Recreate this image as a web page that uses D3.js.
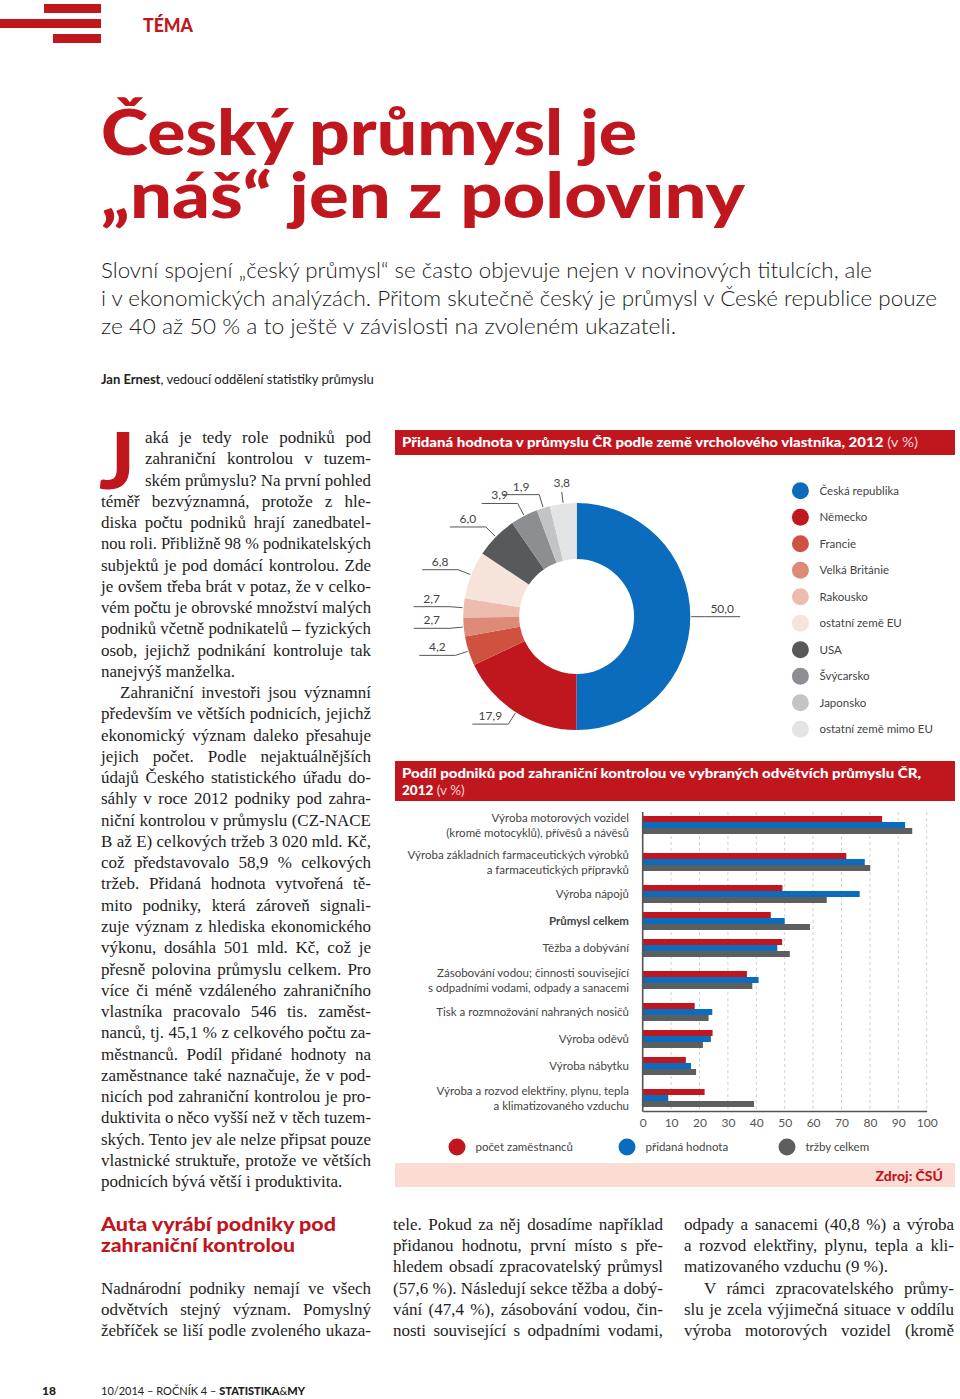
<!DOCTYPE html>
<html lang="cs"><head><meta charset="utf-8">
<script src="https://cdn.jsdelivr.net/npm/d3@7/dist/d3.min.js"></script>
<style>html,body{margin:0;padding:0;background:#fff}svg{display:block}</style>
</head><body>
<svg id="page" width="960" height="1399" viewBox="0 0 960 1399"></svg>
<script>
// ================= DATA =================
const donutCategories = ["Česká republika","Německo","Francie","Velká Británie","Rakousko","ostatní země EU","USA","Švýcarsko","Japonsko","ostatní země mimo EU"];
const donutValues = [50.0,17.9,4.2,2.7,2.7,6.8,6.0,3.9,1.9,3.8];
const donutColors = ["#0b6bbd","#c0171f","#cf5240","#dd8a76","#ecbdae","#f6e3da","#58595b","#8d8e91","#c3c4c6","#e3e4e6"];

const barCategories = [
  "Výroba motorových vozidel\n(kromě motocyklů), přívěsů a návěsů",
  "Výroba základních farmaceutických výrobků\na farmaceutických přípravků",
  "Výroba nápojů",
  "Průmysl celkem",
  "Těžba a dobývání",
  "Zásobování vodou; činnosti související\ns odpadními vodami, odpady a sanacemi",
  "Tisk a rozmnožování nahraných nosičů",
  "Výroba oděvů",
  "Výroba nábytku",
  "Výroba a rozvod elektřiny, plynu, tepla\na klimatizovaného vzduchu"
];
const barSeries = ["počet zaměstnanců","přidaná hodnota","tržby celkem"];
const barEmployees  = [84.3,71.7,49.2,45.1,49.1,36.7,18.3,24.6,15.2,21.8];
const barAddedValue = [92.4,78.2,76.4,50.0,47.4,40.8,24.5,24.0,17.0,9.0];
const barRevenue    = [94.9,80.1,64.8,58.9,51.8,38.6,23.2,21.2,18.8,39.2];
const barColors = ["#c0171f","#0b6bbd","#5d5e60"];
const barTicks = [0,10,20,30,40,50,60,70,80,90,100];
const barHighlight = "Průmysl celkem";

// ================= TEXT =================
const titleLines = ["Český průmysl je","„náš“ jen z poloviny"];
const leadLines = [
  "Slovní spojení „český průmysl“ se často objevuje nejen v novinových titulcích, ale",
  "i v ekonomických analýzách. Přitom skutečně český je průmysl v České republice pouze",
  "ze 40 až 50 % a to ještě v závislosti na zvoleném ukazateli."
];
const col1Para1 = [
  "aká je tedy role podniků pod",
  "zahraniční kontrolou v tuzem-",
  "ském průmyslu? Na první pohled",
  "téměř bezvýznamná, protože z hle-",
  "diska počtu podniků hrají zanedbatel-",
  "nou roli. Přibližně 98 % podnikatelských",
  "subjektů je pod domácí kontrolou. Zde",
  "je ovšem třeba brát v potaz, že v celko-",
  "vém počtu je obrovské množství malých",
  "podniků včetně podnikatelů – fyzických",
  "osob, jejichž podnikání kontroluje tak",
  "nanejvýš manželka."
];
const col1Para2 = [
  "Zahraniční investoři jsou významní",
  "především ve větších podnicích, jejichž",
  "ekonomický význam daleko přesahuje",
  "jejich počet. Podle nejaktuálnějších",
  "údajů Českého statistického úřadu do-",
  "sáhly v roce 2012 podniky pod zahra-",
  "niční kontrolou v průmyslu (CZ-NACE",
  "B až E) celkových tržeb 3 020 mld. Kč,",
  "což představovalo 58,9 % celkových",
  "tržeb. Přidaná hodnota vytvořená tě-",
  "mito podniky, která zároveň signali-",
  "zuje význam z hlediska ekonomického",
  "výkonu, dosáhla 501 mld. Kč, což je",
  "přesně polovina průmyslu celkem. Pro",
  "více či méně vzdáleného zahraničního",
  "vlastníka pracovalo 546 tis. zaměst-",
  "nanců, tj. 45,1 % z celkového počtu za-",
  "městnanců. Podíl přidané hodnoty na",
  "zaměstnance také naznačuje, že v pod-",
  "nicích pod zahraniční kontrolou je pro-",
  "duktivita o něco vyšší než v těch tuzem-",
  "ských. Tento jev ale nelze připsat pouze",
  "vlastnické struktuře, protože ve větších",
  "podnicích bývá větší i produktivita."
];
const bottomHeading = ["Auta vyrábí podniky pod","zahraniční kontrolou"];
const bottomCol1 = [
  "Nadnárodní podniky nemají ve všech",
  "odvětvích stejný význam. Pomyslný",
  "žebříček se liší podle zvoleného ukaza-"
];
const bottomCol2 = [
  "tele. Pokud za něj dosadíme například",
  "přidanou hodnotu, první místo s pře-",
  "hledem obsadí zpracovatelský průmysl",
  "(57,6 %). Následují sekce těžba a dobý-",
  "vání (47,4 %), zásobování vodou, čin-",
  "nosti související s odpadními vodami,"
];
const bottomCol3a = [
  "odpady a sanacemi (40,8 %) a výroba",
  "a rozvod elektřiny, plynu, tepla a kli-",
  "matizovaného vzduchu (9 %)."
];
const bottomCol3b = [
  "V rámci zpracovatelského průmy-",
  "slu je zcela výjimečná situace v oddílu",
  "výroba motorových vozidel (kromě"
];

// ================= HELPERS =================
const RED = "#c0171f";
const SANS = "Lato, 'Open Sans', sans-serif";
const SERIF = "'Liberation Serif', 'DejaVu Serif', serif";
const svg = d3.select("#page");
const locale = d3.formatLocale({decimal: ",", thousands: " ", grouping: [3], currency: ["", " Kč"]});
const fmt1 = locale.format(".1f");

function bodyLine(g, str, x, y, width, justify) {
  const t = g.append("text").attr("x", x).attr("y", y).text(str)
    .attr("font-family", SERIF).attr("font-size", 17).attr("fill", "#1e1e1e");
  const w = t.node().getComputedTextLength();
  if (w > width) {
    t.attr("textLength", width).attr("lengthAdjust", "spacingAndGlyphs");
  } else if (justify) {
    const n = (str.match(/ /g) || []).length;
    if (n) t.style("word-spacing", ((width - w) / n) + "px");
  }
  return t;
}
function fitText(t, width) {
  t.attr("textLength", width).attr("lengthAdjust", "spacingAndGlyphs");
  return t;
}

// ================= HEADER =================
const head = svg.append("g");
[[44, 4], [0, 19], [53, 34]].forEach(([x0, y0]) =>
  head.append("rect").attr("x", x0).attr("y", y0).attr("width", 101 - x0).attr("height", 9).attr("fill", RED));
head.append("text").attr("x", 143).attr("y", 32).text("TÉMA")
  .attr("font-family", SANS).attr("font-weight", 900).attr("font-size", 18).attr("fill", RED)
  .call(t => fitText(t, 50));

titleLines.forEach((s, i) => {
  const t = head.append("text").attr("x", 101).attr("y", 155 + i * 63).text(s)
    .attr("font-family", SANS).attr("font-weight", 900).attr("font-size", 62).attr("fill", RED);
  fitText(t, i === 0 ? 536 : 644);
});
const leadW = [771, 836, 575];
leadLines.forEach((s, i) => {
  const t = head.append("text").attr("x", 101).attr("y", 278 + i * 28).text(s)
    .attr("font-family", SANS).attr("font-weight", 300).attr("font-size", 21).attr("fill", "#1a1a1a");
  fitText(t, leadW[i]);
});
const author = head.append("text").attr("x", 101).attr("y", 384)
  .attr("font-family", SANS).attr("font-size", 13).attr("fill", "#222");
author.append("tspan").attr("font-weight", 700).text("Jan Ernest");
author.append("tspan").text(", vedoucí oddělení statistiky průmyslu");

// ================= COLUMN 1 BODY =================
const body = svg.append("g");
const LH = 21.26, B0 = 443;
body.append("text").attr("x", 99).attr("y", 489).text("J")
  .attr("font-family", SANS).attr("font-weight", 900).attr("font-size", 78).attr("fill", RED)
  .call(t => fitText(t, 36));
col1Para1.forEach((s, i) => {
  const x = i < 3 ? 145 : 101;
  bodyLine(body, s, x, B0 + i * LH, 371 - x, i < col1Para1.length - 1);
});
col1Para2.forEach((s, i) => {
  const k = i + col1Para1.length;
  const x = i === 0 ? 120 : 101;
  bodyLine(body, s, x, B0 + k * LH, 371 - x, i < col1Para2.length - 1);
});

// ================= BOTTOM SECTION =================
bottomHeading.forEach((s, i) =>
  body.append("text").attr("x", 101).attr("y", 1231 + i * 21).text(s)
    .attr("font-family", SANS).attr("font-weight", 900).attr("font-size", 19).attr("fill", RED)
    .call(t => fitText(t, i === 0 ? 235 : 194)));
const BB = 1230, BL = 21.2;
bottomCol1.forEach((s, i) => bodyLine(body, s, 101, BB + (i + 3) * BL, 270, true));
bottomCol2.forEach((s, i) => bodyLine(body, s, 393, BB + i * BL, 270, true));
bottomCol3a.forEach((s, i) => bodyLine(body, s, 684, BB + i * BL, 270, i < bottomCol3a.length - 1));
bottomCol3b.forEach((s, i) => {
  const x = i === 0 ? 704 : 684;
  bodyLine(body, s, x, BB + (i + 3) * BL, 954 - x, true);
});

// footer
const foot = svg.append("g").attr("font-family", SANS).attr("font-size", 11).attr("fill", "#222");
foot.append("text").attr("x", 42).attr("y", 1395).attr("font-size", 12).attr("font-weight", 900).text("18");
const ft = foot.append("text").attr("x", 101).attr("y", 1395);
ft.append("tspan").text("10/2014 – ROČNÍK 4 – ");
ft.append("tspan").attr("font-weight", 900).text("STATISTIKA");
ft.append("tspan").text("&");
ft.append("tspan").attr("font-weight", 900).text("MY");

// ================= DONUT CHART =================
const dc = svg.append("g");
dc.append("rect").attr("x", 395).attr("y", 430).attr("width", 560).attr("height", 25).attr("fill", RED);
const dTitle = dc.append("text").attr("x", 402).attr("y", 447)
  .attr("font-family", SANS).attr("font-size", 13.5).attr("fill", "#fff");
dTitle.append("tspan").attr("font-weight", 900).text("Přidaná hodnota v průmyslu ČR podle země vrcholového vlastníka, 2012");
dTitle.append("tspan").attr("fill", "#f6d3d3").text(" (v %)");
fitText(dTitle, 516);

const CX = 576.7, CY = 616.5, R0 = 57.5, R1 = 113.5;
const donutData = donutCategories.map((c, i) => ({cat: c, value: donutValues[i]}));
const pie = d3.pie().sort(null).value(d => d.value);
const arcs = pie(donutData);
const arc = d3.arc().innerRadius(R0).outerRadius(R1);
const color = d3.scaleOrdinal().domain(donutCategories).range(donutColors);
const dg = dc.append("g").attr("transform", `translate(${CX},${CY})`);
dg.selectAll("path").data(arcs).join("path")
  .attr("d", arc).attr("fill", d => color(d.data.cat));

const pt = (a, r) => [r * Math.sin(a), -r * Math.cos(a)];
const lab = dg.append("g").attr("font-family", SANS).attr("font-size", 12).attr("fill", "#444");
arcs.forEach(d => {
  const a = (d.startAngle + d.endAngle) / 2;
  const s = Math.sin(a);
  const p0 = pt(a, R1 + 1);
  if (Math.abs(s) < 0.2) {
    const p1 = pt(a, R1 + 12);
    lab.append("line").attr("x1", p0[0]).attr("y1", p0[1]).attr("x2", p1[0]).attr("y2", p1[1])
      .attr("stroke", "#555").attr("stroke-width", 1);
    lab.append("text").attr("x", p1[0]).attr("y", p1[1] - 5).attr("text-anchor", "middle").text(fmt1(d.data.value));
  } else {
    const p1 = pt(a, R1 + 14);
    const dir = s < 0 ? -1 : 1;
    const x2 = p1[0] + dir * 36;
    lab.append("path").attr("d", `M${p0[0]},${p0[1]}L${p1[0]},${p1[1]}L${x2},${p1[1]}`)
      .attr("fill", "none").attr("stroke", "#555").attr("stroke-width", 1);
    lab.append("text").attr("x", p1[0] + dir * 18).attr("y", p1[1] - 4).attr("text-anchor", "middle")
      .text(fmt1(d.data.value));
  }
});

const legY = d3.scalePoint().domain(donutCategories).range([490.7, 729.2]);
const dl = dc.append("g").attr("font-family", SANS).attr("font-size", 11.5).attr("fill", "#444");
donutCategories.forEach(c => {
  dl.append("circle").attr("cx", 800.4).attr("cy", legY(c)).attr("r", 8.5).attr("fill", color(c));
  dl.append("text").attr("x", 819.5).attr("y", legY(c) + 4).text(c);
});

// ================= BAR CHART =================
const bc = svg.append("g");
bc.append("rect").attr("x", 395).attr("y", 761).attr("width", 560).attr("height", 40).attr("fill", RED);
const bt1 = bc.append("text").attr("x", 402).attr("y", 778).attr("font-family", SANS)
  .attr("font-size", 13.5).attr("font-weight", 900).attr("fill", "#fff")
  .text("Podíl podniků pod zahraniční kontrolou ve vybraných odvětvích průmyslu ČR,");
fitText(bt1, 519);
const bt2 = bc.append("text").attr("x", 402).attr("y", 795).attr("font-family", SANS)
  .attr("font-size", 13.5).attr("fill", "#fff");
bt2.append("tspan").attr("font-weight", 900).text("2012");
bt2.append("tspan").attr("fill", "#f6d3d3").text(" (v %)");

const x = d3.scaleLinear().domain([0, 100]).range([642.7, 926.7]);
const rows = barCategories.map((c, i) => ({
  cat: c, lines: c.split("\n"),
  vals: [barEmployees[i], barAddedValue[i], barRevenue[i]]
}));
let cum = 0;
rows.forEach(r => { r.h = 17 + 10 * r.lines.length; r.mid = cum + r.h / 2; cum += r.h; });
const yRow = d3.scaleLinear().domain([0, cum]).range([806.5, 1116.5]);
const ySub = d3.scaleBand().domain(barSeries).range([-9, 9]);
const AXY = 1111, TOPY = 812;

const grid = bc.append("g");
grid.selectAll("line").data(barTicks.filter(t => t > 0)).join("line")
  .attr("x1", d => x(d)).attr("x2", d => x(d)).attr("y1", TOPY).attr("y2", AXY)
  .attr("stroke", "#c4c4c4").attr("stroke-width", 0.8).attr("stroke-dasharray", "3,3");

const rg = bc.selectAll("g.row").data(rows).join("g").attr("class", "row")
  .attr("transform", d => `translate(0,${yRow(d.mid)})`);
rg.selectAll("rect").data(d => d.vals.map((v, k) => ({v, s: barSeries[k]}))).join("rect")
  .attr("x", x(0)).attr("y", d => ySub(d.s)).attr("height", ySub.bandwidth())
  .attr("width", d => x(d.v) - x(0)).attr("fill", (d, k) => barColors[k]);
rg.each(function (d) {
  const g = d3.select(this);
  const n = d.lines.length;
  d.lines.forEach((ln, j) => {
    const yy = n === 1 ? 4 : (j === 0 ? -3.5 : 11.5);
    g.append("text").attr("x", 629).attr("y", yy).attr("text-anchor", "end")
      .attr("font-family", SANS).attr("font-size", 11.5).attr("fill", "#444")
      .attr("font-weight", d.cat === barHighlight ? 700 : 400).text(ln);
  });
});

bc.append("line").attr("x1", x(0)).attr("x2", x(0)).attr("y1", TOPY).attr("y2", AXY + 0.7)
  .attr("stroke", "#555").attr("stroke-width", 1.6);
const ax = bc.append("g").attr("transform", `translate(0,${AXY})`)
  .call(d3.axisBottom(x).tickValues(barTicks).tickSize(0).tickPadding(7.5));
ax.select(".domain").attr("stroke", "#555").attr("stroke-width", 1.6);
ax.selectAll("text").attr("font-family", SANS).attr("font-size", 12).attr("fill", "#555");

const lg = bc.append("g").attr("font-family", SANS).attr("font-size", 11.5).attr("fill", "#444");
const legX = [457, 627, 787];
barSeries.forEach((s, k) => {
  lg.append("circle").attr("cx", legX[k]).attr("cy", 1147).attr("r", 8.5).attr("fill", barColors[k]);
  lg.append("text").attr("x", legX[k] + 18.5).attr("y", 1151).text(s);
});

bc.append("rect").attr("x", 395).attr("y", 1163).attr("width", 560).attr("height", 24).attr("fill", "#fbdcd4");
bc.append("text").attr("x", 943).attr("y", 1181).attr("text-anchor", "end")
  .attr("font-family", SANS).attr("font-weight", 900).attr("font-size", 14).attr("fill", RED).text("Zdroj: ČSÚ");
</script>
</body></html>
